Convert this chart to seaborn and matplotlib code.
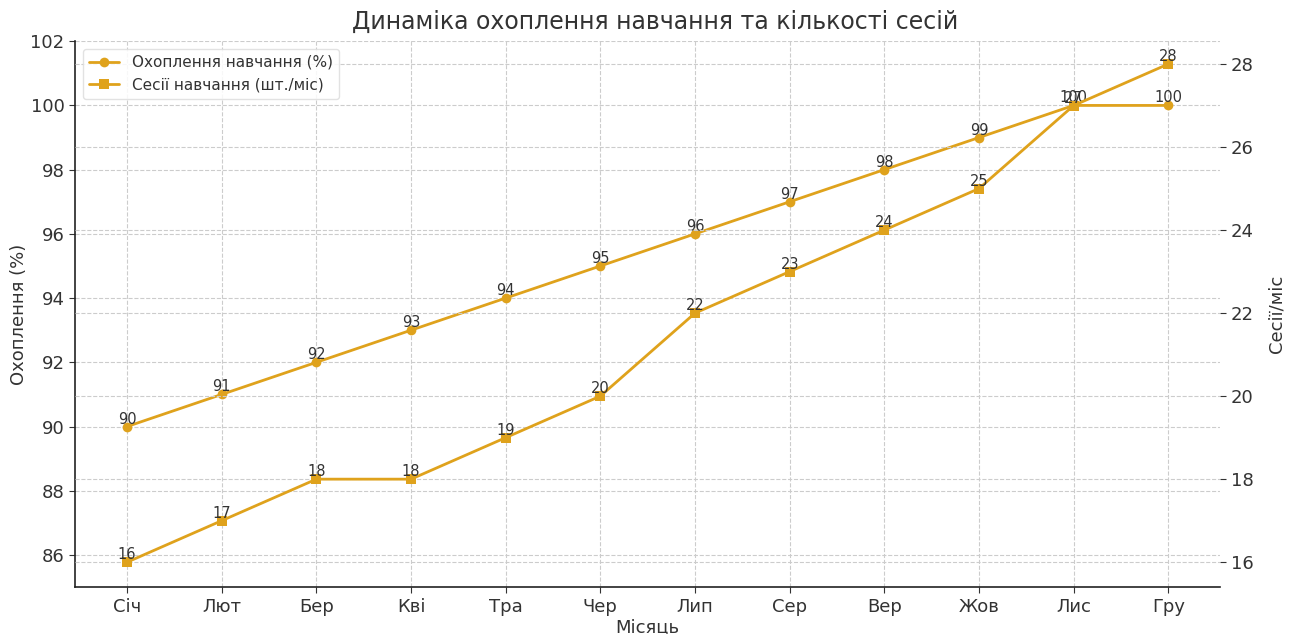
import matplotlib
matplotlib.use("Agg")
import matplotlib.pyplot as plt
import seaborn as sns
import pandas as pd

months = ["Січ", "Лют", "Бер", "Кві", "Тра", "Чер", "Лип", "Сер", "Вер", "Жов", "Лис", "Гру"]
coverage = [90, 91, 92, 93, 94, 95, 96, 97, 98, 99, 100, 100]
sessions = [16, 17, 18, 18, 19, 20, 22, 23, 24, 25, 27, 28]

sns.set_style("whitegrid", {"grid.linestyle": "--", "grid.color": "#cccccc"})
plt.rcParams["font.family"] = ["DejaVu Sans"]

color = "#DFA21C"
text_color = "#333333"

df = pd.DataFrame({"month": months, "x": range(len(months)),
                   "coverage": coverage, "sessions": sessions})

fig = plt.figure(figsize=(13, 6.34), dpi=100)
ax1 = fig.add_axes([0.0577, 0.074, 0.881, 0.861])
ax2 = ax1.twinx()

sns.lineplot(data=df, x="x", y="coverage", ax=ax1, color=color, marker="o",
             markersize=7, markeredgewidth=0, linewidth=2,
             label="Охоплення навчання (%)", legend=False)
sns.lineplot(data=df, x="x", y="sessions", ax=ax2, color=color, marker="s",
             markersize=7, markeredgewidth=0, linewidth=2,
             label="Сесії навчання (шт./міс)", legend=False)

for xi, v in zip(df["x"], coverage):
    ax1.text(xi, v, f"{v}", ha="center", va="bottom", fontsize=10.5, color=text_color)
for xi, v in zip(df["x"], sessions):
    ax2.text(xi, v, f"{v}", ha="center", va="bottom", fontsize=10.5, color=text_color)

ax1.set_ylim(85, 102)
ax2.set_ylim(15.4, 28.55)
ax1.set_yticks(range(86, 103, 2))
ax2.set_yticks(range(16, 29, 2))
ax1.set_xticks(list(df["x"]))
ax1.set_xticklabels(months)
ax1.set_xlim(-0.55, len(months) - 0.45)

fig.suptitle("Динаміка охоплення навчання та кількості сесій", fontsize=17,
             color=text_color, x=0.504, y=0.985)
ax1.set_xlabel("Місяць", fontsize=13, color=text_color, labelpad=2)
ax1.set_ylabel("Охоплення (%)", fontsize=13, color=text_color, labelpad=2)
ax2.set_ylabel("Сесії/міс", fontsize=13, color=text_color, labelpad=10)

ax1.tick_params(axis="both", labelsize=13, colors=text_color, length=4, left=True, bottom=True)
ax2.tick_params(axis="y", labelsize=13, colors=text_color, length=4, right=True)

for ax in (ax1, ax2):
    ax.grid(True, linestyle="--", color="#cccccc", linewidth=0.8)
    for side in ("top", "right"):
        ax.spines[side].set_visible(False)
ax2.spines["left"].set_visible(False)
ax2.spines["bottom"].set_visible(False)
ax2.grid(True, axis="y")
ax2.grid(False, axis="x")
for side in ("left", "bottom"):
    ax1.spines[side].set_color("#222222")
    ax1.spines[side].set_linewidth(1.2)

h1, l1 = ax1.get_legend_handles_labels()
h2, l2 = ax2.get_legend_handles_labels()
leg = ax2.legend(h1 + h2, l1 + l2, loc="upper left", fontsize=11,
                 frameon=True, framealpha=0.85, edgecolor="#dddddd")
for t in leg.get_texts():
    t.set_color(text_color)

fig.savefig("out.png", dpi=100)
